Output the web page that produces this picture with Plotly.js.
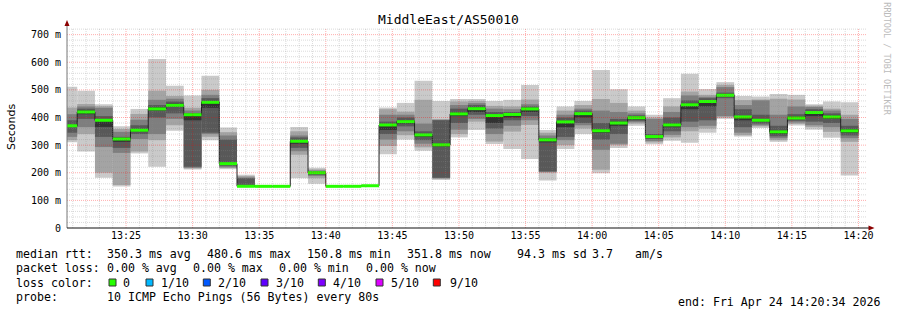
<!DOCTYPE html>
<html><head><meta charset="utf-8">
<script src="https://cdn.plot.ly/plotly-3.0.1.min.js"></script>
<style>html,body{margin:0;padding:0;background:#fff}#chart{width:897px;height:310px}</style>
</head><body><div id="chart"></div>
<script>
// ---- data (RRD step = 80 s, timestamp = end of each interval) ----
const times = ['13:21:20','13:22:40','13:24:00','13:25:20','13:26:40','13:28:00','13:29:20','13:30:40','13:32:00','13:33:20',
  '13:34:40','13:36:00','13:37:20','13:38:40','13:40:00','13:41:20','13:42:40','13:44:00','13:45:20','13:46:40',
  '13:48:00','13:49:20','13:50:40','13:52:00','13:53:20','13:54:40','13:56:00','13:57:20','13:58:40','14:00:00',
  '14:01:20','14:02:40','14:04:00','14:05:20','14:06:40','14:08:00','14:09:20','14:10:40','14:12:00','14:13:20',
  '14:14:40','14:16:00','14:17:20','14:18:40','14:20:00'];
const median = [370,420,390,322,354,431,444,410,455,233,151,150.8,150.8,314,200,150.8,150.9,153,373,385,337,301,413,432,407,411,431,319,384,414,352,380,399,331,373,446,458,480.6,402,390,348,398,418,402,351.8];
// sorted ping rtts (ms), ping1 = fastest ... ping10 = slowest
const ping1 = [310,277,182,150,270,222,352,212,318,213,150.5,150.5,150.5,180,160,150.5,150.6,152.5,267,320,280,174,328,355,304,286,250,172,286,340,198,290,370,303,316,309,345,395,331,362,312,371,356,327,190];
const ping2 = [318,340,200,156,277,318,372,215,330,217,150.6,150.6,150.6,265,180,150.6,150.7,152.6,297,336,292,178,340,385,313,349,373,200,300,360,211,300,378,310,328,350,360,400,336,368,318,377,365,348,312];
const ping3 = [330,365,293,272,322,340,395,218,340,220,150.7,150.7,150.7,278,188,150.7,150.8,152.7,320,350,305,180,356,395,340,370,390,203,318,372,283,305,383,315,337,365,370,405,345,372,325,382,372,365,325];
const ping4 = [345,395,330,290,340,400,415,222,345,225,150.8,150.7,150.7,290,192,150.7,150.8,152.8,340,368,318,182,380,410,360,390,405,205,330,380,320,340,388,322,350,385,390,470,365,378,332,388,385,380,335];
const ping5 = [366,412,366,312,350,425,438,390,435,229,150.9,150.8,150.8,305,196,150.8,150.9,152.9,355,378,330,295,405,420,380,400,420,310,365,400,345,370,392,326,365,430,440,478,390,385,340,393,405,395,345];
const ping6 = [372,425,392,325,357,437,450,412,458,236,152,150.8,150.8,318,202,150.8,150.9,153.1,375,390,340,305,418,437,410,413,435,322,388,418,356,385,402,333,378,450,462,485,405,393,352,403,420,407,358];
const ping7 = [390,432,405,330,372,445,458,415,470,320,180,150.9,150.9,328,205,150.9,151,153.2,385,400,350,390,432,445,420,420,440,325,400,425,380,395,408,340,400,462,470,490,430,410,370,412,430,415,370];
const ping8 = [412,440,435,348,392,464,468,425,482,335,183,151,151,335,208,151,151.1,153.3,410,410,378,392,445,452,432,430,448,335,410,432,425,420,415,395,420,480,475,510,445,462,410,440,438,425,395];
const ping9 = [436,449,441,358,413,497,478,435,500,347,188,151.1,151.1,350,212,151.1,151.2,153.4,430,421,464,394,458,460,442,440,465,345,425,445,467,453,425,400,440,494,482,518,463,465,468,465,443,432,410];
const ping10 = [511,497,448,368,431,612,515,480,551,364,193,151.3,151.3,366,218,151.3,151.4,153.6,436,453,533,460,467,467,460,464,518,355,440,460,572,502,440,410,470,558,503,528,478,476,485,482,448,458,455];

const yTickVals = [0,100,200,300,400,500,600,700];
const yTickText = ['0','100 m','200 m','300 m','400 m','500 m','600 m','700 m'];
const smokeColors = ['#cacaca','#a4a4a4','#7e7e7e','#585858','#323232'];
const lossColors = ['#26ff00','#00b8ff','#0059ff','#5e00ff','#7e00ff','#dd00ff','#ff0000'];
const lossLabels = ['0','1/10','2/10','3/10','4/10','5/10','9/10'];
const rttStats = ['median rtt:','350.3 ms avg','480.6 ms max','150.8 ms min','351.8 ms now','94.3 ms sd','3.7','am/s'];
const lossStats = ['packet loss:','0.00 % avg','0.00 % max','0.00 % min','0.00 % now'];
const probeText = ['probe:','10 ICMP Echo Pings (56 Bytes) every 80s'];
const endText = 'end: Fri Apr 24 14:20:34 2026';
const titleText = 'MiddleEast/AS50010';

// ---- build ----
const toMs = t => { const [h,m,s] = t.split(':').map(Number); return Date.UTC(2026,3,24,h,m,s); };
const STEP = 80000;
const tEnd = times.map(toMs);
const xStart = toMs('13:20:34'), xEnd = toMs('14:20:34');
const pings = [ping1,ping2,ping3,ping4,ping5,ping6,ping7,ping8,ping9,ping10];

const traces = [];
for (let i = 0; i < 5; i++) {
  const lo = pings[i], hi = pings[9-i];
  traces.push({type:'bar', x:tEnd, base:lo, y:hi.map((v,k)=>v-lo[k]), width:STEP, offset:-STEP,
    marker:{color:smokeColors[i], line:{width:0}}, hoverinfo:'skip'});
}
traces.push({type:'scatter', mode:'lines', x:[tEnd[0]-STEP].concat(tEnd), y:[median[0]].concat(median),
  line:{shape:'vh', width:1, color:'#202020'}, hoverinfo:'skip'});
const gx = [], gy = [];
tEnd.forEach((t,k)=>{ gx.push(t-STEP, t, null); gy.push(median[k], median[k], null); });
traces.push({type:'scatter', mode:'lines', x:gx, y:gy, line:{width:3, color:lossColors[0]}, hoverinfo:'skip'});

// pixel helpers for decoration (plot area 67..866 x 28..228)
const L=67, R=866, T=28, B=228;
const px = x => (x-L)/(R-L), py = y => (B-y)/(B-T);

const shapes = [];
const majorC = 'rgba(255,0,0,0.32)', minorC = 'rgba(140,140,140,0.32)';
for (let m = toMs('13:21:00'); m <= xEnd; m += 60000) {
  const major = (new Date(m).getUTCMinutes() % 5) === 0;
  shapes.push({type:'line', xref:'x', yref:'paper', x0:m, x1:m, y0:0, y1:1, layer:'above',
    line:{color: major?majorC:minorC, width:1, dash:'1px,1px'}});
}
for (let v = 20; v <= 720; v += 20) {
  const major = v % 100 === 0;
  shapes.push({type:'line', xref:'paper', yref:'y', x0:0, x1:1, y0:v, y1:v, layer:'above',
    line:{color: major?majorC:minorC, width:1, dash:'1px,1px'}});
}
// axes + arrows
shapes.push({type:'line', xref:'paper', yref:'paper', x0:0, x1:0, y0:0, y1:py(24), layer:'above', line:{color:'#777', width:1}});
shapes.push({type:'line', xref:'paper', yref:'paper', x0:0, x1:px(870), y0:0, y1:0, layer:'above', line:{color:'#111', width:1}});
shapes.push({type:'path', xref:'paper', yref:'paper', layer:'above', fillcolor:'#8b0000', line:{width:0},
  path:`M ${px(64.5)} ${py(26)} L ${px(69.5)} ${py(26)} L ${px(67)} ${py(20)} Z`});
shapes.push({type:'path', xref:'paper', yref:'paper', layer:'above', fillcolor:'#8b0000', line:{width:0},
  path:`M ${px(868.5)} ${py(225.5)} L ${px(868.5)} ${py(230.5)} L ${px(874.5)} ${py(228)} Z`});

const mono = 'DejaVu Sans Mono';
const ann = [];
const addText = (text, x, y, opts={}) => ann.push(Object.assign({text, x:px(x), y:py(y), xref:'paper', yref:'paper',
  xanchor:'left', yanchor:'middle', showarrow:false, borderpad:0, borderwidth:0,
  font:{family:mono, size:11.6, color:'#000'}}, opts));

const rttX = [16,106.7,206.7,307.3,407.3,517.3,591.7,635];
rttStats.forEach((s,i)=>addText(s, rttX[i], 254.3));
const lossX = [16,107.3,193.3,279.3,365.7];
lossStats.forEach((s,i)=>addText(s, lossX[i], 268.3));
addText('loss color:', 16, 282.7);
const boxX = [109,146,203.3,261,318.3,376,433.3];
const lblX = [123.3,160.7,218.3,276,333.3,390.7,450];
lossLabels.forEach((s,i)=>{
  addText(s, lblX[i], 282.7);
  shapes.push({type:'rect', xref:'paper', yref:'paper', x0:px(boxX[i]), x1:px(boxX[i]+7), y0:py(286), y1:py(279),
    fillcolor:lossColors[i], line:{color:'#333', width:1}, layer:'above'});
});
addText(probeText[0], 16, 296.7);
addText(probeText[1], 107.3, 296.7);
addText(endText, 678.3, 302);
ann.push({text:'Seconds', x:px(11), y:py(127), xref:'paper', yref:'paper', xanchor:'center', yanchor:'middle',
  textangle:-90, showarrow:false, font:{family:'DejaVu Sans', size:11, color:'#000'}});
ann.push({text:'RRDTOOL / TOBI OETIKER', x:px(886.7), y:py(59), xref:'paper', yref:'paper', xanchor:'center', yanchor:'middle',
  textangle:90, showarrow:false, font:{family:mono, size:8.5, color:'#bbbbbb'}});

const layout = {
  width:897, height:310, margin:{l:L, r:897-R, t:T, b:310-B, pad:0},
  paper_bgcolor:'#fff', plot_bgcolor:'#fff', showlegend:false, barmode:'overlay',
  title:{text:titleText, font:{family:mono, size:13, color:'#000'}, x:0.5, xref:'container', y:1-19/310, yref:'container', yanchor:'middle'},
  xaxis:{type:'date', range:[xStart, xEnd], tickformat:'%H:%M', dtick:300000, tick0:toMs('13:00:00'),
    showgrid:false, zeroline:false, showline:false, ticks:'', tickfont:{family:mono, size:10, color:'#000'}, fixedrange:true},
  yaxis:{range:[0,724], tickvals:yTickVals, ticktext:yTickText, showgrid:false, zeroline:false, showline:false,
    ticks:'', ticklabelstandoff:5, tickfont:{family:mono, size:10, color:'#000'}, fixedrange:true},
  shapes, annotations:ann
};
Plotly.newPlot('chart', traces, layout, {displayModeBar:false, staticPlot:true});
</script></body></html>
